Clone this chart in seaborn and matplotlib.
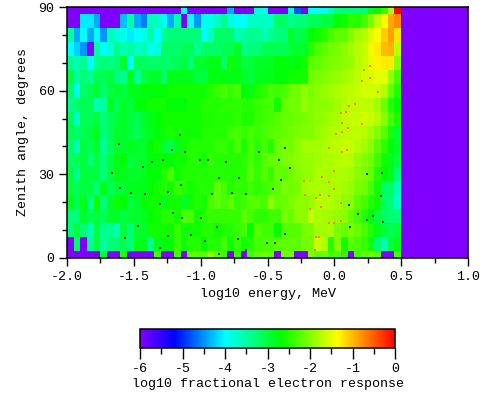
import numpy as np
import pandas as pd
import matplotlib
matplotlib.use("Agg")
import matplotlib.pyplot as plt
from matplotlib.colors import LinearSegmentedColormap
import seaborn as sns

N = -6.0  # no response (bottom of the colour scale)
zenith_00 = [N,N,N,N,N,-2.9,N,N,-2.5,N,N,N,N,-2.3,N,N,-2.3,N,-2.2,-2.2,-2.2,-1.9,-2.2,-2.4,N,-2.4,N,-2.3,-2.2,-2.1,-2.2,N,-2.1,-2.1,N,N,-2.0,-2.2,-2.1,-2.3,-2.3,-2.5,N,-2.3,-2.2,-2.1,-2.2,N,N,-2.3]
zenith_05 = [N,-3.2,N,-3.4,-3.0,-3.5,-3.3,-3.2,-3.1,-3.3,-2.8,-2.8,-3.4,-2.8,-2.7,-2.7,-2.4,-2.6,-2.5,-2.5,-2.7,-2.5,-2.5,-2.3,-2.6,-2.4,-2.6,-2.5,-2.3,-2.3,-2.3,-2.2,-2.2,-2.2,-2.2,-2.1,-2.05,-1.65,-1.75,-2.5,-2.0,-2.6,-2.2,-2.3,-2.4,-2.6,-3.3,-3.6,-3.0,-2.8]
zenith_10 = [-3.3,-3.0,-3.3,-3.6,-3.0,-3.4,-3.4,-3.6,-3.0,-3.3,-2.9,-2.9,-2.6,-2.6,-2.6,-2.6,-2.4,-2.6,-2.6,-2.6,-2.5,-2.5,-2.6,-2.5,-2.5,-2.4,-2.3,-2.65,-2.25,-2.35,-2.35,-2.65,-2.25,-2.25,-2.25,-2.05,-2.05,-1.85,-1.85,-1.8,-2.05,-2.15,-2.05,-2.15,-2.3,-2.5,-2.8,-3.0,-3.1,-3.0]
zenith_15 = [-3.3,-3.3,-2.9,-3.1,-3.0,-3.1,-2.9,-2.9,-3.0,-2.9,-2.9,-2.8,-2.7,-2.6,-2.5,-2.5,-2.6,-2.3,-2.3,-2.6,-2.5,-2.4,-2.4,-2.4,-2.4,-2.4,-2.2,-2.3,-2.45,-2.45,-2.35,-2.35,-2.05,-2.15,-1.95,-1.95,-1.7,-1.8,-1.85,-1.85,-1.9,-1.95,-2.15,-2.3,-2.5,-2.7,-3.0,-3.2,-3.25,-3.3]
zenith_20 = [-2.8,-3.1,-2.8,-3.4,-2.6,-3.3,-2.9,-2.6,-2.7,-3.0,-2.9,-2.7,-2.6,-2.6,-2.8,-2.6,-2.6,-2.9,-2.6,-2.5,-2.6,-2.3,-2.2,-2.3,-2.2,-2.4,-2.35,-2.25,-2.25,-2.3,-1.95,-2.15,-2.15,-2.05,-1.95,-1.95,-1.9,-1.75,-1.75,-1.75,-1.85,-1.95,-1.95,-2.2,-2.3,-2.5,-2.6,-3.2,-3.3,-3.7]
zenith_25 = [-3.0,-3.1,-3.0,-3.0,-3.3,-2.8,-3.1,-3.0,-2.9,-2.8,-2.8,-2.8,-2.7,-2.6,-2.5,-2.6,-2.4,-2.5,-2.6,-2.5,-2.5,-2.5,-2.2,-2.3,-2.5,-2.4,-2.45,-2.35,-2.45,-2.35,-2.3,-2.2,-2.05,-2.1,-2.05,-1.85,-1.8,-1.8,-1.8,-1.8,-1.8,-1.85,-1.9,-2.05,-2.1,-2.3,-2.6,-3.2,-3.2,-3.6]
zenith_30 = [-3.0,-3.4,-3.0,-3.0,-3.0,-3.3,-3.0,-2.8,-2.8,-2.9,-2.9,-2.8,-2.7,-2.7,-2.5,-2.3,-2.6,-2.5,-2.5,-2.5,-2.5,-2.5,-2.5,-2.5,-2.5,-2.5,-2.45,-2.25,-2.4,-2.25,-2.4,-2.15,-2.2,-2.1,-2.0,-1.9,-1.9,-1.8,-1.8,-1.8,-1.8,-1.8,-1.85,-1.95,-2.05,-2.15,-2.5,-2.7,-2.8,-3.3]
zenith_35 = [-3.2,-3.1,-3.0,-3.3,-3.0,-3.3,-3.0,-2.8,-2.7,-3.0,-2.9,-2.9,-2.7,-2.7,-2.7,-2.7,-2.6,-2.6,-2.5,-2.5,-2.6,-2.4,-2.5,-2.5,-2.5,-2.5,-2.45,-2.3,-2.45,-2.25,-2.15,-2.15,-2.05,-2.0,-1.95,-1.9,-1.9,-1.85,-1.8,-1.8,-1.75,-1.72,-1.75,-1.9,-2.0,-2.1,-2.35,-2.6,-2.8,-3.0]
zenith_40 = [-3.2,-3.6,-3.0,-3.1,-2.9,-3.4,-3.1,-2.9,-2.9,-2.8,-2.9,-2.9,-2.7,-2.6,-2.9,-3.1,-2.8,-2.6,-2.5,-2.5,-2.5,-2.5,-2.4,-2.4,-2.5,-2.3,-2.55,-2.3,-2.45,-2.3,-2.5,-2.15,-2.05,-2.1,-1.95,-1.85,-1.85,-1.85,-1.8,-1.75,-1.7,-1.65,-1.65,-1.75,-1.85,-1.95,-2.2,-2.45,-2.7,-2.9]
zenith_45 = [-3.1,-3.2,-3.1,-3.0,-2.8,-3.3,-3.1,-2.9,-2.9,-3.0,-3.1,-2.9,-2.8,-2.7,-2.6,-2.55,-2.6,-2.6,-2.6,-2.6,-2.5,-2.5,-2.5,-2.5,-2.35,-2.3,-2.4,-2.3,-2.4,-2.3,-2.25,-2.2,-2.15,-2.1,-2.05,-2.0,-2.0,-1.9,-1.85,-1.75,-1.75,-1.7,-1.7,-1.7,-1.75,-1.85,-2.0,-2.25,-2.55,-2.95]
zenith_50 = [-3.1,-3.7,-3.1,-3.1,-3.0,-3.3,-3.1,-3.0,-2.9,-3.0,-3.1,-2.9,-2.8,-2.7,-2.6,-2.6,-2.6,-2.6,-2.6,-2.6,-2.55,-2.55,-2.5,-2.5,-2.5,-2.45,-2.55,-2.55,-2.4,-2.35,-2.3,-2.25,-2.15,-2.15,-2.1,-2.05,-2.0,-1.95,-1.9,-1.85,-1.8,-1.7,-1.65,-1.65,-1.6,-1.65,-1.75,-2.0,-2.3,-2.55]
zenith_55 = [-3.4,-3.2,-3.1,-3.1,-3.6,-3.5,-2.8,-3.1,-2.9,-3.0,-2.7,-2.7,-2.6,-2.6,-2.6,-2.7,-2.7,-2.7,-2.6,-2.6,-2.5,-2.5,-2.5,-2.45,-2.45,-2.45,-2.5,-2.5,-2.4,-2.35,-2.3,-2.6,-2.15,-2.1,-2.1,-1.9,-2.0,-1.95,-1.95,-1.9,-1.85,-1.75,-1.7,-1.7,-1.7,-1.7,-1.85,-2.1,-2.5,-2.7]
zenith_60 = [-3.2,-3.9,-3.2,-3.1,-2.9,-3.2,-3.0,-2.9,-3.0,-2.8,-2.8,-2.7,-2.7,-2.7,-2.7,-2.6,-2.6,-2.6,-2.6,-2.6,-2.6,-2.5,-2.4,-2.3,-2.4,-2.3,-2.7,-2.8,-2.55,-2.45,-2.3,-2.35,-2.3,-2.15,-2.1,-1.95,-2.05,-1.95,-1.9,-1.85,-1.8,-1.75,-1.7,-1.65,-1.6,-1.6,-1.6,-1.75,-2.15,-2.5]
zenith_65 = [-3.0,-3.5,-3.3,-3.4,-3.1,-3.1,-3.0,-3.3,-3.4,-2.8,-3.4,-3.0,-2.9,-2.9,-3.2,-2.8,-2.8,-2.8,-2.8,-3.0,-3.0,-2.75,-2.75,-2.75,-2.75,-2.75,-2.9,-3.0,-2.85,-2.8,-2.8,-2.7,-2.7,-2.6,-2.6,-2.6,-2.1,-2.05,-2.0,-1.95,-1.9,-1.85,-1.8,-1.7,-1.6,-1.55,-1.5,-1.5,-1.9,-2.3]
zenith_70 = [-3.4,-3.6,-3.4,-4.0,-3.4,-3.3,-3.35,-3.3,-2.9,-4.0,-3.1,-3.2,-3.2,-3.2,-3.2,-3.2,-3.1,-3.0,-3.3,-2.9,-2.9,-2.8,-2.8,-3.2,-2.6,-2.8,-3.0,-3.0,-2.85,-2.85,-2.85,-2.7,-2.7,-2.75,-2.7,-2.6,-2.25,-2.2,-2.1,-2.05,-2.0,-1.95,-1.9,-1.75,-1.65,-1.5,-1.3,-1.25,-1.25,-1.95]
zenith_75 = [-4.0,-4.2,-4.5,N,-3.5,-4.0,-3.8,-3.4,-3.6,-3.5,-3.7,-3.6,-3.9,-3.8,-3.2,-3.2,-3.2,-3.1,-3.1,-3.4,-3.2,-3.2,-3.2,-3.1,-3.1,-2.9,-3.4,-3.3,-3.3,-3.1,-3.1,-3.1,-3.1,-3.0,-2.9,-2.9,-2.5,-2.3,-2.2,-2.1,-2.05,-1.95,-1.85,-1.75,-1.65,-1.45,-1.25,-1.0,-0.95,-1.7]
zenith_80 = [-3.5,-4.4,-4.0,-4.4,-4.0,-4.5,-3.6,-3.8,-3.9,-4.1,-4.0,-3.9,-3.5,-4.0,-3.4,-3.3,-3.3,-3.3,-3.3,-3.3,-4.0,-3.7,-3.2,-3.2,-3.2,-3.6,-3.5,-3.4,-3.4,-3.6,-3.4,-3.3,-3.3,-2.9,-3.1,-3.0,-2.7,-2.6,-2.5,-2.3,-2.2,-2.2,-2.0,-1.85,-1.75,-1.55,-1.35,-1.1,-0.85,-1.2]
zenith_85 = [N,N,-4.1,-4.1,-4.4,N,N,N,-4.3,-3.5,-4.4,-4.6,-3.6,-3.7,-4.0,-4.4,-3.6,N,-4.0,-4.5,-3.9,-3.9,-3.7,-3.4,-3.8,-4.0,-4.0,-3.7,-3.7,-3.7,-3.7,-3.2,-3.2,-3.4,-3.3,-3.3,-3.1,-3.1,-3.0,-3.0,-2.7,-2.6,-2.45,-2.5,-2.3,-2.05,-1.7,-1.35,-0.9,-0.75]
zenith_90 = [N,N,N,N,N,N,N,N,N,N,N,N,N,N,N,N,N,-4.0,N,N,N,N,N,N,-4.4,N,N,N,-3.8,-4.0,N,N,N,-3.8,-4.8,N,-4.0,-4.0,-4.0,-3.7,-3.3,-3.3,-3.3,-3.3,-3.3,-2.9,-2.7,-2.4,-1.8,0.0]
inner_rows = [zenith_85, zenith_80, zenith_75, zenith_70, zenith_65, zenith_60, zenith_55, zenith_50, zenith_45,
              zenith_40, zenith_35, zenith_30, zenith_25, zenith_20, zenith_15, zenith_10, zenith_05]
energy_edges = np.arange(-2.0, 1.0, 0.05)

dark_energy = [-1.152,-1.608,-1.212,-1.114,-1.361,-1.279,-1.002,-0.942,-0.808,-1.429,-1.660,-0.860,-0.710,-1.144,-1.601,-1.518,-1.414,-1.242,-0.912,-0.763,-1.301,-1.204,-1.137,-0.995,-1.466,-0.875,-1.563,-1.242,-1.069,-0.965,-0.718,-1.301,-0.860,
               -0.367,-0.561,-0.412,-0.329,0.247,0.359,-0.397,-0.457,-0.659,0.351,0.112,0.179,0.292,0.247,0.366,0.119,-0.367,-0.502,-0.442,-0.659]
dark_zenith = [44.0,40.8,38.6,37.9,34.3,35.0,35.0,35.0,34.3,32.5,30.4,28.6,28.6,26.1,25.0,23.2,22.8,23.6,22.8,23.2,19.2,16.0,14.2,14.2,11.4,11.0,7.1,7.8,8.1,6.0,6.7,3.5,1.3,
               39.3,37.9,35.0,32.2,30.0,30.4,27.9,24.6,22.8,22.1,18.9,15.7,15.0,13.5,12.8,11.0,8.5,5.3,5.3,2.8]
hot_energy = [0.060,0.015,-0.038,0.097,0.060,0.0,-0.090,-0.225,-0.038,0.0,-0.217,-0.038,-0.135,-0.105,0.052,-0.180,-0.098,-0.038,0.0,0.052,-0.135,-0.112,-0.142,0.060,
              0.224,0.269,0.269,0.209,0.329,0.112,0.157,0.090,0.052,0.060,0.209,0.105]
hot_zenith = [45.1,44.3,39.3,38.6,37.9,31.1,28.9,27.5,27.1,24.6,22.5,22.1,21.4,22.5,19.6,17.5,18.2,12.4,12.4,13.2,7.4,7.4,2.8,1.3,
              67.3,68.7,64.4,63.3,59.4,54.4,55.1,52.2,51.9,48.3,47.9,46.5]

x_major = [-2.0, -1.5, -1.0, -0.5, 0.0, 0.5, 1.0]
x_minor = [-1.75, -1.25, -0.75, -0.25, 0.25, 0.75]
y_major = [0, 30, 60, 90]
y_minor = [10, 20, 40, 50, 70, 80]
c_major = [-6, -5, -4, -3, -2, -1, 0]
c_minor = [-5.5, -4.5, -3.5, -2.5, -1.5, -0.5]

W, H = 503, 396
plt.rcParams['font.family'] = ['Liberation Mono', 'DejaVu Sans Mono']
plt.rcParams['font.size'] = 9.6
plt.rcParams['axes.linewidth'] = 1.1

cmap = LinearSegmentedColormap.from_list(
    "resp", [(0, "#7f00ff"), (0.8/6, "#0000ff"), (2/6, "#00ffff"), (3.33/6, "#00ff00"), (4.65/6, "#ffff00"), (1, "#ff0000")], N=256)

# The rows are centred on 0, 5, ... 90 degrees, so the two end rows are half height:
# every inner row fills two 2.5-degree bands, each end row one.
bands = [zenith_90]
for r in inner_rows:
    bands += [r, r]
bands.append(zenith_00)
band_grid = [b + [N] * 10 for b in bands]
band_tops = np.arange(90, 0, -2.5)
frame = pd.DataFrame(band_grid, index=band_tops, columns=np.round(energy_edges, 2))

fig = plt.figure(figsize=(W/100, H/100), dpi=100, facecolor="white")
ax = fig.add_axes([67/W, 1-258/H, 401/W, 251/H])
sns.heatmap(frame, ax=ax, cmap=cmap, vmin=-6, vmax=0, cbar=False, xticklabels=False, yticklabels=False)
mesh = ax.collections[0]
for s in ax.spines.values():
    s.set_visible(True)
    s.set_color("black")
    s.set_linewidth(1.1)

def xpos(v):
    return (np.asarray(v) + 2.0) / 0.05
def ypos(v):
    return (90 - np.asarray(v)) / 2.5

ax.scatter(xpos(dark_energy), ypos(dark_zenith), s=0.55, marker="s", c="#103010", linewidths=0, antialiaseds=False, zorder=3)
ax.scatter(xpos(hot_energy), ypos(hot_zenith), s=0.55, marker="s", c="#ff8000", linewidths=0, antialiaseds=False, zorder=3)

ax.set_xticks(xpos(x_major))
ax.set_xticklabels([f"{v:.1f}" for v in x_major], rotation=0)
ax.set_xticks(xpos(x_minor), minor=True)
ax.set_yticks(ypos(y_major))
ax.set_yticklabels([str(v) for v in y_major], rotation=0)
ax.set_yticks(ypos(y_minor), minor=True)
ax.tick_params(which="major", length=6, width=1, color="black", pad=3)
ax.tick_params(which="minor", length=3.5, width=1, color="black")
ax.set_xlabel("log10 energy, MeV", labelpad=4)
ax.set_ylabel("Zenith angle, degrees", labelpad=7)

cax = fig.add_axes([140/W, 1-348/H, 255/W, 19/H])
cb = fig.colorbar(mesh, cax=cax, orientation="horizontal")
cb.set_ticks(c_major)
cb.set_ticklabels([str(v) for v in c_major])
cb.ax.set_xticks(c_minor, minor=True)
cb.ax.tick_params(which="major", length=8, width=1, pad=3)
cb.ax.tick_params(which="minor", length=4, width=1)
cb.outline.set_linewidth(1.1)
cb.set_label("log10 fractional electron response", labelpad=2)

fig.savefig("out.png", dpi=100)
